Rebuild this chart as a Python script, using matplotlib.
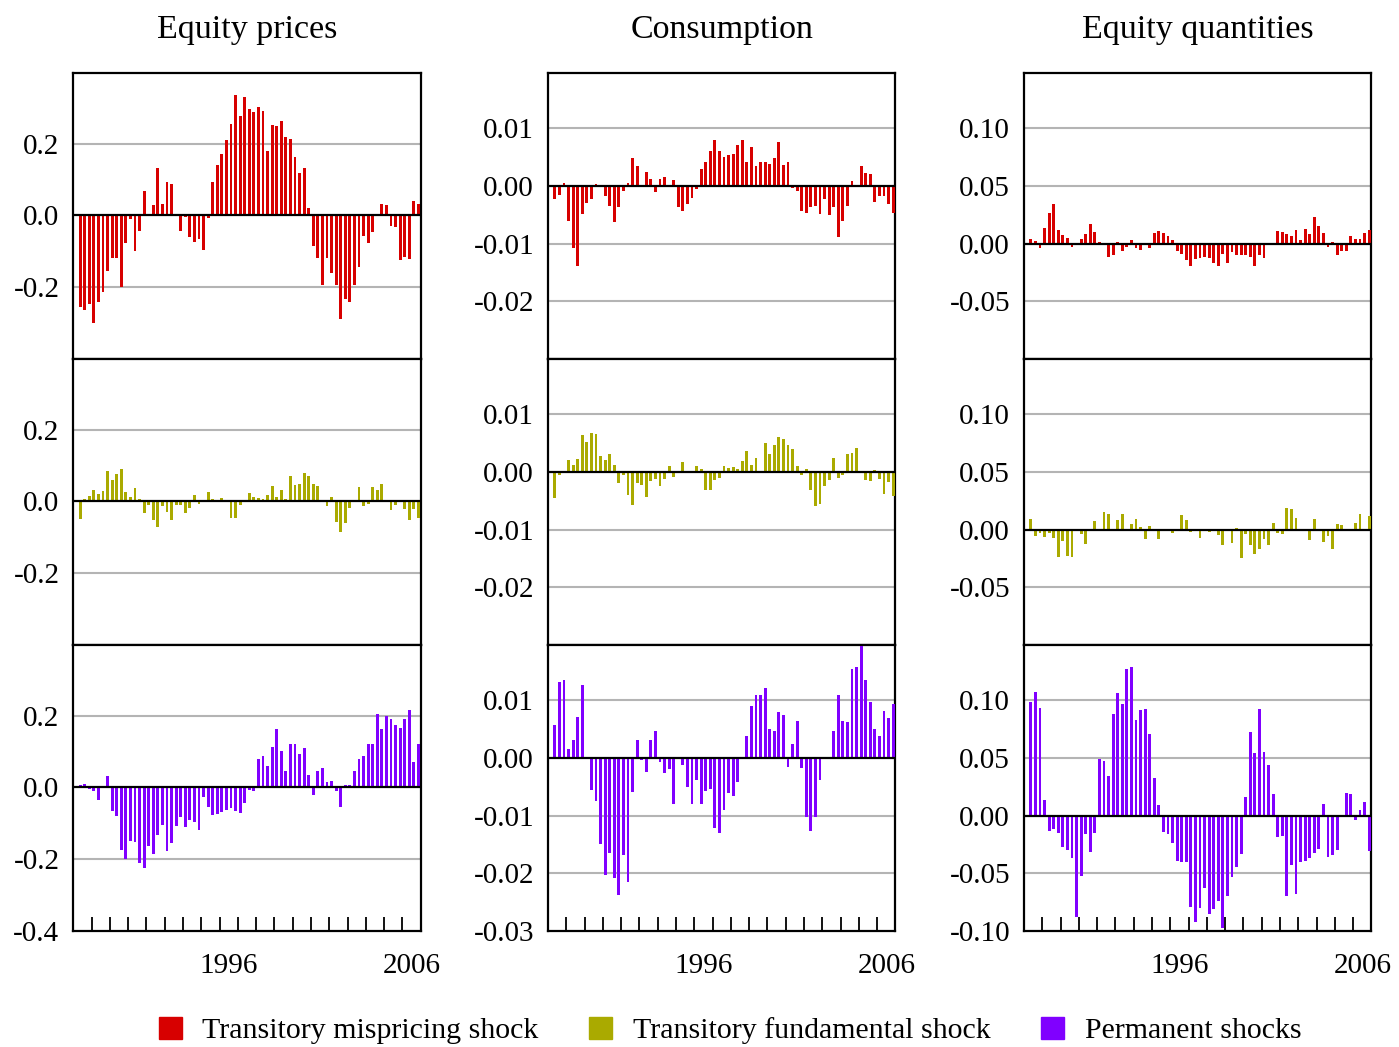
import numpy as np
import matplotlib.pyplot as plt
from matplotlib.patches import Patch

plt.rcParams['font.family'] = ['Liberation Serif', 'DejaVu Serif']

# quarterly decomposition, 1988Q2 - 2006Q4
first_quarter = 1988.25
columns = ['Equity prices', 'Consumption', 'Equity quantities']
shocks = ['Transitory mispricing shock', 'Transitory fundamental shock', 'Permanent shocks']
colors = ['#d70000', '#aaaa00', '#8000ff']

price_mis = [-0.255, -0.263, -0.246, -0.299, -0.241, -0.213, -0.155, -0.119, -0.119, -0.199,
             -0.077, -0.010, -0.099, -0.044, 0.069, 0.0, 0.028, 0.131, 0.031, 0.094,
             0.089, 0.0, -0.044, -0.005, -0.060, -0.074, -0.066, -0.096, -0.007, 0.092,
             0.142, 0.172, 0.211, 0.256, 0.336, 0.278, 0.331, 0.297, 0.289, 0.303,
             0.292, 0.181, 0.253, 0.250, 0.264, 0.219, 0.214, 0.164, 0.119, 0.133,
             0.022, -0.085, -0.119, -0.194, -0.119, -0.160, -0.194, -0.288, -0.232, -0.241,
             -0.194, -0.144, -0.057, -0.077, -0.046, 0.0, 0.033, 0.028, -0.030, -0.032,
             -0.124, -0.116, -0.121, 0.039, 0.033]
price_fund = [-0.050, 0.006, 0.016, 0.032, 0.021, 0.030, 0.085, 0.060, 0.077, 0.091,
              0.027, 0.013, 0.038, 0.007, -0.033, -0.011, -0.053, -0.070, -0.014, -0.028,
              -0.053, -0.011, -0.011, -0.033, -0.017, 0.019, -0.006, 0.0, 0.027, 0.007,
              0.0, 0.010, 0.0, -0.045, -0.045, -0.011, 0.0, 0.024, 0.013, 0.010,
              0.007, 0.019, 0.044, 0.013, 0.032, 0.007, 0.071, 0.046, 0.049, 0.080,
              0.071, 0.049, 0.044, 0.0, -0.014, 0.013, -0.056, -0.084, -0.061, -0.017,
              0.0, 0.041, -0.014, -0.008, 0.041, 0.032, 0.049, 0.0, -0.025, -0.011,
              0.0, -0.022, -0.053, -0.022, -0.045]
price_perm = [0.006, 0.011, -0.005, -0.010, -0.035, 0.0, 0.033, -0.066, -0.080, -0.174,
              -0.200, -0.149, -0.152, -0.211, -0.225, -0.163, -0.186, -0.133, -0.105, -0.177,
              -0.155, -0.108, -0.083, -0.110, -0.091, -0.097, -0.119, -0.027, -0.055, -0.077,
              -0.074, -0.069, -0.063, -0.058, -0.066, -0.071, -0.044, -0.007, -0.010, 0.078,
              0.089, 0.061, 0.114, 0.164, 0.103, 0.047, 0.120, 0.122, 0.092, 0.109,
              0.036, -0.021, 0.047, 0.053, 0.014, 0.019, -0.010, -0.055, 0.006, 0.008,
              0.045, 0.078, 0.089, 0.120, 0.122, 0.206, 0.164, 0.200, 0.192, 0.175,
              0.167, 0.192, 0.217, 0.072, 0.120]

cons_mis = [-0.0023, -0.0016, 0.0006, -0.0061, -0.0108, -0.0138, -0.0049, -0.0030, -0.0023, 0.0004,
            0.0, -0.0018, -0.0035, -0.0063, -0.0037, -0.0008, 0.0006, 0.0048, 0.0035, -0.0002,
            0.0025, 0.0013, -0.0011, 0.0013, 0.0016, -0.0002, 0.0011, -0.0037, -0.0044, -0.0032,
            -0.0021, -0.0006, 0.0030, 0.0042, 0.0061, 0.0079, 0.0060, 0.0051, 0.0053, 0.0056,
            0.0072, 0.0079, 0.0042, 0.0067, 0.0035, 0.0042, 0.0042, 0.0039, 0.0048, 0.0077,
            0.0037, 0.0042, -0.0004, -0.0008, -0.0044, -0.0046, -0.0037, -0.0034, -0.0049, -0.0023,
            -0.0051, -0.0037, -0.0088, -0.0061, -0.0035, 0.0009, -0.0002, 0.0034, 0.0023, 0.0020,
            -0.0028, -0.0018, -0.0018, -0.0032, -0.0046]
cons_fund = [-0.0045, -0.0006, 0.0, 0.0021, 0.0012, 0.0023, 0.0064, 0.0052, 0.0068, 0.0066,
             0.0028, 0.0021, 0.0031, 0.0012, -0.0019, -0.0005, -0.0039, -0.0057, -0.0019, -0.0022,
             -0.0043, -0.0015, -0.0012, -0.0024, -0.0012, 0.0010, -0.0008, 0.0, 0.0017, 0.0002,
             0.0002, 0.0010, 0.0005, -0.0031, -0.0031, -0.0013, -0.0010, 0.0010, 0.0007, 0.0009,
             0.0005, 0.0019, 0.0037, 0.0012, 0.0024, 0.0, 0.0050, 0.0031, 0.0047, 0.0061,
             0.0057, 0.0047, 0.0040, 0.0010, -0.0005, 0.0005, -0.0031, -0.0059, -0.0055, -0.0024,
             -0.0013, 0.0024, -0.0010, -0.0006, 0.0031, 0.0033, 0.0042, 0.0, -0.0013, -0.0015,
             0.0003, -0.0012, -0.0038, -0.0017, -0.0041]
cons_perm = [0.0057, 0.0131, 0.0136, 0.0015, 0.0031, 0.0072, 0.0126, 0.0, -0.0055, -0.0075,
             -0.0149, -0.0203, -0.0165, -0.0208, -0.0238, -0.0168, -0.0215, -0.0059, 0.0031, -0.0003,
             -0.0024, 0.0031, 0.0046, -0.0007, -0.0026, -0.0019, -0.0080, 0.0, -0.0012, -0.0050,
             -0.0080, -0.0038, -0.0080, -0.0057, -0.0054, -0.0121, -0.0130, -0.0090, -0.0061, -0.0066,
             -0.0042, 0.0, 0.0038, 0.0091, 0.0110, 0.0110, 0.0121, 0.0050, 0.0046, 0.0079,
             0.0074, -0.0016, 0.0025, 0.0065, -0.0017, -0.0102, -0.0127, -0.0102, -0.0038, 0.0,
             0.0, 0.0046, 0.0109, 0.0064, 0.0062, 0.0154, 0.0157, 0.0195, 0.0136, 0.0097,
             0.0051, 0.0039, 0.0081, 0.0069, 0.0093]

qty_mis = [0.0038, 0.0020, -0.0038, 0.0133, 0.0266, 0.0341, 0.0116, 0.0072, 0.0046, -0.0029,
           0.0, 0.0038, 0.0081, 0.0168, 0.0098, 0.0017, 0.0, -0.0116, -0.0098, 0.0012,
           -0.0064, -0.0029, 0.0029, -0.0038, -0.0055, 0.0, -0.0038, 0.0090, 0.0107, 0.0090,
           0.0064, 0.0029, -0.0064, -0.0090, -0.0142, -0.0194, -0.0133, -0.0124, -0.0116, -0.0124,
           -0.0168, -0.0194, -0.0090, -0.0168, -0.0072, -0.0098, -0.0098, -0.0098, -0.0116, -0.0194,
           -0.0098, -0.0124, 0.0, 0.0, 0.0107, 0.0098, 0.0081, 0.0064, 0.0116, 0.0029,
           0.0124, 0.0081, 0.0228, 0.0150, 0.0090, -0.0029, 0.0012, -0.0098, -0.0064, -0.0064,
           0.0064, 0.0038, 0.0038, 0.0090, 0.0116]
qty_fund = [0.0095, -0.0058, -0.0032, -0.0066, -0.0032, -0.0075, -0.0240, -0.0101, -0.0231, -0.0240,
            0.0009, -0.0040, -0.0127, 0.0, 0.0078, -0.0014, 0.0156, 0.0139, 0.0, 0.0087,
            0.0139, -0.0014, 0.0052, 0.0095, 0.0026, -0.0084, 0.0035, 0.0, -0.0084, 0.0,
            0.0009, -0.0032, 0.0, 0.0130, 0.0087, -0.0023, 0.0, -0.0075, 0.0009, -0.0023,
            0.0, -0.0049, -0.0136, -0.0012, -0.0118, 0.0017, -0.0249, -0.0040, -0.0136, -0.0214,
            -0.0171, -0.0084, -0.0136, 0.0061, -0.0032, -0.0040, 0.0191, 0.0182, 0.0104, 0.0,
            -0.0012, -0.0092, 0.0095, 0.0, -0.0110, -0.0058, -0.0171, 0.0052, 0.0043, 0.0,
            0.0006, 0.0061, 0.0139, 0.0, 0.0121]
qty_perm = [0.0983, 0.1069, 0.0931, 0.0135, -0.0130, -0.0112, -0.0147, -0.0268, -0.0294, -0.0363,
            -0.0882, -0.0519, -0.0156, -0.0311, -0.0147, 0.0490, 0.0473, 0.0343, 0.0879, 0.1061,
            0.0965, 0.1268, 0.1285, 0.0827, 0.0914, 0.0922, 0.0706, 0.0326, 0.0092, -0.0138,
            -0.0156, -0.0233, -0.0389, -0.0398, -0.0398, -0.0795, -0.0925, -0.0804, -0.0631, -0.0856,
            -0.0813, -0.0744, -0.0977, -0.0700, -0.0536, -0.0441, -0.0329, 0.0161, 0.0723, 0.0542,
            0.0922, 0.0550, 0.0438, 0.0187, -0.0182, -0.0173, -0.0700, -0.0424, -0.0683, -0.0406,
            -0.0389, -0.0363, -0.0320, -0.0285, 0.0101, -0.0354, -0.0337, -0.0294, 0.0, 0.0196,
            0.0187, -0.0035, 0.0049, 0.0118, -0.0303]

series = [[price_mis, price_fund, price_perm],
          [cons_mis, cons_fund, cons_perm],
          [qty_mis, qty_fund, qty_perm]]
ylims = [(-0.4, 0.397), (-0.03, 0.0196), (-0.10, 0.148)]
gridlines = [[0.2, -0.2], [0.01, -0.01, -0.02], [0.10, 0.05, -0.05]]
ytick_vals = [[0.2, 0.0, -0.2], [0.01, 0.0, -0.01, -0.02], [0.10, 0.05, 0.0, -0.05]]
ytick_fmt = ['{:.1f}', '{:.2f}', '{:.2f}']

W, H = 1399, 1047
fig = plt.figure(figsize=(W / 100, H / 100), dpi=100)
lefts = [73.3, 548, 1024]
tops = [73, 359, 645]
aw, ah = 347.4, 286

for c in range(3):
    for r in range(3):
        ax = fig.add_axes([lefts[c] / W, 1 - (tops[r] + ah) / H, aw / W, ah / H])
        vals = series[c][r]
        x = first_quarter + 0.125 + 0.25 * np.arange(len(vals))
        ax.bar(x, vals, width=0.16, color=colors[r], zorder=3, linewidth=0)
        ax.axhline(0, color='black', lw=1.6, zorder=4)
        for g in gridlines[c]:
            ax.axhline(g, color='#b4b4b4', lw=1.5, zorder=1)
        ax.set_xlim(1988, 2007)
        ax.set_ylim(*ylims[c])
        yt = list(ytick_vals[c])
        if r == 2:
            yt.append(ylims[c][0])
        ax.set_yticks(yt)
        ax.set_yticklabels([ytick_fmt[c].format(v) for v in yt])
        ax.tick_params(axis='y', length=0, pad=10, labelsize=21)
        for s in ax.spines.values():
            s.set_linewidth(1.6)
        if r < 2:
            ax.set_xticks([])
        else:
            ax.set_xticks([1996.5, 2006.5])
            ax.set_xticklabels(['1996', '2006'])
            ax.set_xticks(np.arange(1989, 2007), minor=True)
            ax.tick_params(axis='x', which='major', length=0, pad=16, labelsize=21)
            ax.tick_params(axis='x', which='minor', direction='in', length=10, width=1.3)
        if r == 0:
            ax.set_title(columns[c], fontsize=24.5, pad=25)

handles = [Patch(color=col) for col in colors]
fig.legend(handles, shocks, loc='center', bbox_to_anchor=(0.522, 0.016), ncol=3,
           frameon=False, fontsize=21.5, handlelength=0.76, handleheight=0.76,
           handletextpad=0.7, columnspacing=1.7)

fig.savefig('out.png', dpi=100)
